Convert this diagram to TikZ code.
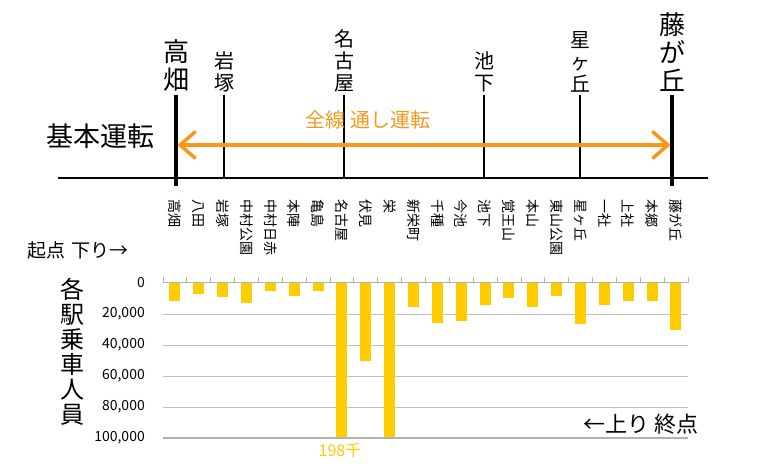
\documentclass[tikz,border=0pt]{standalone}
\usepackage{fontspec}
\setmainfont{Noto Sans CJK JP}
\begin{document}
\begin{tikzpicture}[x=1pt,y=-1pt,
  stn/.style={anchor=west,rotate=-90,font=\fontsize{14}{14}\selectfont,inner sep=0pt},
  top/.style={anchor=south,align=center,inner sep=0pt,font=\fontsize{20}{22}\selectfont},
  grid/.style={draw=black!25,line width=1pt}]
\useasboundingbox (0,0) rectangle (760,470);
\definecolor{barc}{HTML}{FFCC00}
\definecolor{orc}{HTML}{F7981D}
% top diagram
\draw[line width=2pt] (58,178) coordinate (L) -- (708,178) coordinate (R);
\foreach \x/\n in {224/a,344/b,484/c,580/d}{\draw[line width=1.2pt] (\x,95) coordinate (t\n) -- (\x,178);}
\draw[line width=3.5pt] (176,95) coordinate (t0) -- (176,186);
\draw[line width=3.5pt] (672,95) coordinate (t9) -- (672,186);
\node[top,font=\fontsize{26}{28}\selectfont] (s0) at (176,92) {高\\畑};
\node[top] (s1) at (224,92) {岩\\塚};
\node[top] (s2) at (344,92) {名\\古\\屋};
\node[top] (s3) at (484,92) {池\\下};
\node[top] (s4) at (580,92) {星\\ヶ\\丘};
\node[top,font=\fontsize{26}{28}\selectfont] (s5) at (672,92) {藤\\が\\丘};
\node[font=\fontsize{27}{28}\selectfont] (kh) at (100,136) {基本運転};
\coordinate (A1) at (180,145); \coordinate (A2) at (668,145);
\draw[orc,line width=3.5pt,line cap=round,line join=round] (A1) -- (A2);
\draw[orc,line width=3.5pt,line cap=round,line join=round] (195,132) -- (A1) -- (195,158);
\draw[orc,line width=3.5pt,line cap=round,line join=round] (653,132) -- (A2) -- (653,158);
\node[orc,font=\fontsize{20}{20}\selectfont] (zt) at (368,120) {全線 通し運転};
% station labels
\foreach \s [count=\i from 0] in {高畑,八田,岩塚,中村公園,中村日赤,本陣,亀島,名古屋,伏見,栄,新栄町,千種,今池,池下,覚王山,本山,東山公園,星ヶ丘,一社,上社,本郷,藤が丘}{
  \node[stn] (n\i) at ({163+23.86*(\i+0.5)},199) {\s};}
\node[font=\fontsize{19}{20}\selectfont,anchor=west] (ks) at (24,250) {起点\,\,下り→};
% chart
\foreach \v in {20,40,60,80}{
  \draw[grid] (163,{283+1.55*\v}) -- (688,{283+1.55*\v});}
\foreach \v/\l in {0/0,20/20{,}000,40/40{,}000,60/60{,}000,80/80{,}000,100/100{,}000}{
  \node[anchor=east,font=\fontsize{14}{14}\selectfont,inner sep=0pt] at (145,{283+1.55*\v}) {\l};}
\foreach \v [count=\i from 0] in {11.3,7.3,8.8,13,5.1,8.6,4.9,100,50,100,15.2,26,24.2,13.9,9.4,15.6,8.1,26.3,14.3,11.3,11.3,30.6}{
  \fill[barc] ({163+23.86*(\i+0.5)-5.5},283) rectangle ({163+23.86*(\i+0.5)+5.5},{283+1.55*\v});}
\draw[black!30,line width=1pt] (163,283) -- (688,283);
\foreach \i in {0,...,22}{\draw[black!30,line width=0.8pt] ({163+23.86*\i},277) -- ({163+23.86*\i},283);}
\draw[black!30,line width=1.2pt] (163,438) -- (688,438);
\node[barc,font=\fontsize{16}{16}\selectfont] (sen) at (340,451) {198千};
\node[font=\fontsize{24}{25}\selectfont,align=center,inner sep=0pt] (yl) at (72,352) {各\\駅\\乗\\車\\人\\員};
\node[font=\fontsize{22}{22}\selectfont,anchor=east] (jo) at (702,424) {←上り 終点};
\end{tikzpicture}
\end{document}
